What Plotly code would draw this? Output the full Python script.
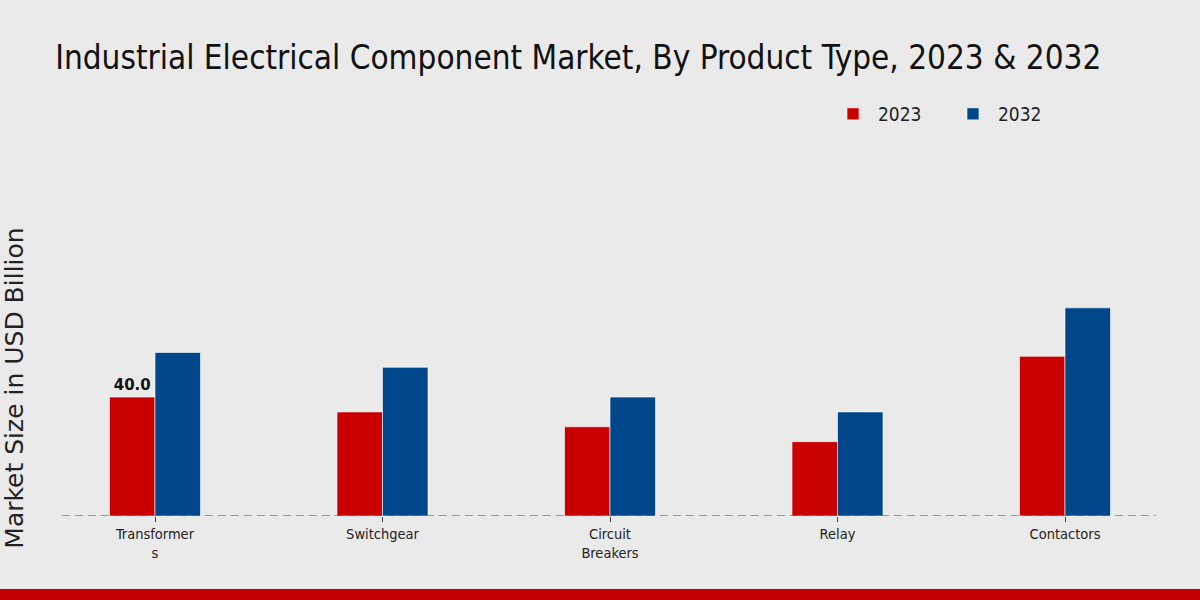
import plotly.graph_objects as go

categories = ["Transformer<br>s", "Switchgear", "Circuit<br>Breakers", "Relay", "Contactors"]
values_2023 = [40.0, 35.0, 30.0, 25.0, 53.7]
values_2032 = [55.0, 50.0, 40.0, 35.0, 70.0]
labels_2023 = ["<b>40.0</b>", "", "", "", ""]

FONT = "DejaVu Sans Condensed, Liberation Sans Narrow, DejaVu Sans, sans-serif"

fig = go.Figure()
fig.add_trace(go.Bar(
    name="2023", x=categories, y=values_2023,
    marker=dict(color="#C80000", line=dict(color="white", width=0.6)),
    text=labels_2023, textposition="outside", cliponaxis=False,
    textfont=dict(family="DejaVu Sans, sans-serif", size=15, color="#111111"),
))
fig.add_trace(go.Bar(
    name="2032", x=categories, y=values_2032,
    marker=dict(color="#00468B", line=dict(color="white", width=0.6)),
))

fig.update_layout(
    width=1200, height=600,
    barmode="group", bargap=0.6, bargroupgap=0,
    paper_bgcolor="#EAEAEA", plot_bgcolor="rgba(0,0,0,0)",
    margin=dict(l=64, r=44, t=260, b=84),
    title=dict(text="Industrial Electrical Component Market, By Product Type, 2023 & 2032",
               x=0.046, xanchor="left", yref="container", y=0.905, yanchor="middle",
               font=dict(family=FONT, size=33, color="#111111")),
    legend=dict(orientation="h", xref="container", x=0.69, xanchor="left",
                yref="container", y=0.81, yanchor="middle",
                font=dict(family=FONT, size=19, color="#222222"),
                bgcolor="rgba(0,0,0,0)", itemwidth=40, entrywidth=65,
                traceorder="normal"),
    xaxis=dict(range=[-0.4, 4.4], showgrid=False, showline=False, zeroline=False,
               ticks="outside", ticklen=5, tickcolor="#444444",
               tickfont=dict(family=FONT, size=14.5, color="#222222")),
    yaxis=dict(range=[0, 86.1], showgrid=False, zeroline=False, showline=False,
               showticklabels=False,
               title=dict(text="Market Size in USD Billion", standoff=32,
                          font=dict(family="DejaVu Sans, sans-serif", size=25, color="#222222"))),
    shapes=[
        dict(type="line", xref="paper", yref="y", x0=-0.002, x1=1, y0=0, y1=0,
             line=dict(color="#444444", width=1.2, dash="8px,5px"), layer="above"),
        dict(type="rect", xref="paper", yref="paper", x0=-0.06, x1=1.05,
             y0=-0.35, y1=-0.285, fillcolor="#C00000", line=dict(width=0), layer="below"),
    ],
)

fig.write_html("out.html")
